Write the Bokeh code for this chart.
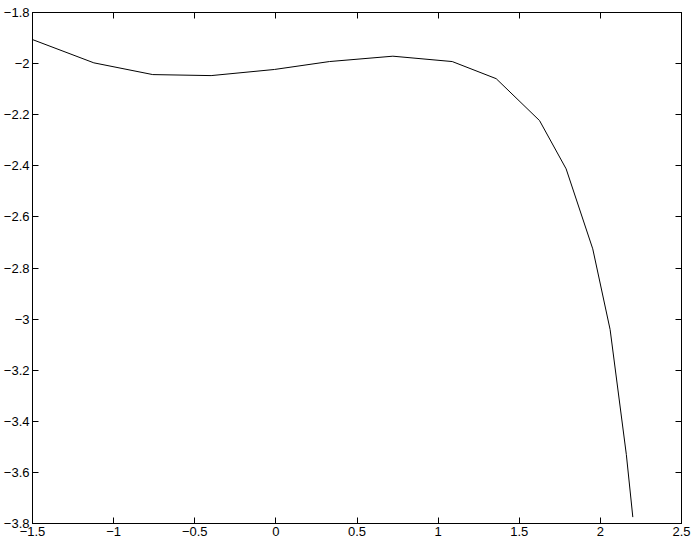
from bokeh.plotting import figure
from bokeh.models import Range1d, LinearAxis, FixedTicker, CustomJSTickFormatter
from bokeh.embed import file_html
from bokeh.resources import INLINE

x_vals = [-1.5, -1.122, -0.759, -0.399, -0.009, 0.33, 0.721, 1.087, 1.358,
          1.625, 1.789, 1.953, 2.06, 2.16, 2.2]
y_vals = [-1.906, -1.997, -2.043, -2.047, -2.023, -1.992, -1.971, -1.992, -2.059,
          -2.223, -2.412, -2.725, -3.041, -3.53, -3.775]
x_ticks = [-1.5, -1.0, -0.5, 0.0, 0.5, 1.0, 1.5, 2.0, 2.5]
y_ticks = [-3.8, -3.6, -3.4, -3.2, -3.0, -2.8, -2.6, -2.4, -2.2, -2.0, -1.8]

fmt_js = """
var v = Math.round(tick*10)/10;
var s = v.toString();
return s.replace('-', '\\u2212');
"""

p = figure(frame_width=649, frame_height=511, output_backend="svg", toolbar_location=None,
           x_range=Range1d(-1.5, 2.5), y_range=Range1d(-3.8, -1.8),
           min_border_left=25, min_border_right=14, min_border_top=12, min_border_bottom=0,
           background_fill_color="white", border_fill_color="white")
p.xgrid.visible = False
p.ygrid.visible = False
p.outline_line_color = "black"
p.outline_line_width = 1
p.outline_line_alpha = 1.0

font = "Liberation Sans"
for ax, ticks in ((p.xaxis[0], x_ticks), (p.yaxis[0], y_ticks)):
    ax.ticker = FixedTicker(ticks=ticks)
    ax.formatter = CustomJSTickFormatter(code=fmt_js)
    ax.major_tick_in = 6
    ax.major_tick_out = 0
    ax.minor_tick_in = 0
    ax.minor_tick_out = 0
    ax.axis_line_color = "black"
    ax.major_tick_line_color = "black"
    ax.major_label_text_font = font
    ax.major_label_text_font_size = "13px"
    ax.major_label_text_color = "black"
    ax.major_label_standoff = 3

blank = CustomJSTickFormatter(code="return '';")
top = LinearAxis(ticker=FixedTicker(ticks=x_ticks), formatter=blank,
                 major_tick_in=6, major_tick_out=0, minor_tick_in=0, minor_tick_out=0,
                 major_label_standoff=0, major_label_text_font_size="1px",
                 axis_line_color="black", major_tick_line_color="black")
right = LinearAxis(ticker=FixedTicker(ticks=y_ticks), formatter=CustomJSTickFormatter(code="return '';"),
                   major_tick_in=6, major_tick_out=0, minor_tick_in=0, minor_tick_out=0,
                   major_label_standoff=0, major_label_text_font_size="1px",
                   axis_line_color="black", major_tick_line_color="black")
p.add_layout(top, "above")
p.add_layout(right, "right")

p.line(x_vals, y_vals, line_color="black", line_width=1)

open("out.html", "w").write(file_html(p, INLINE))
